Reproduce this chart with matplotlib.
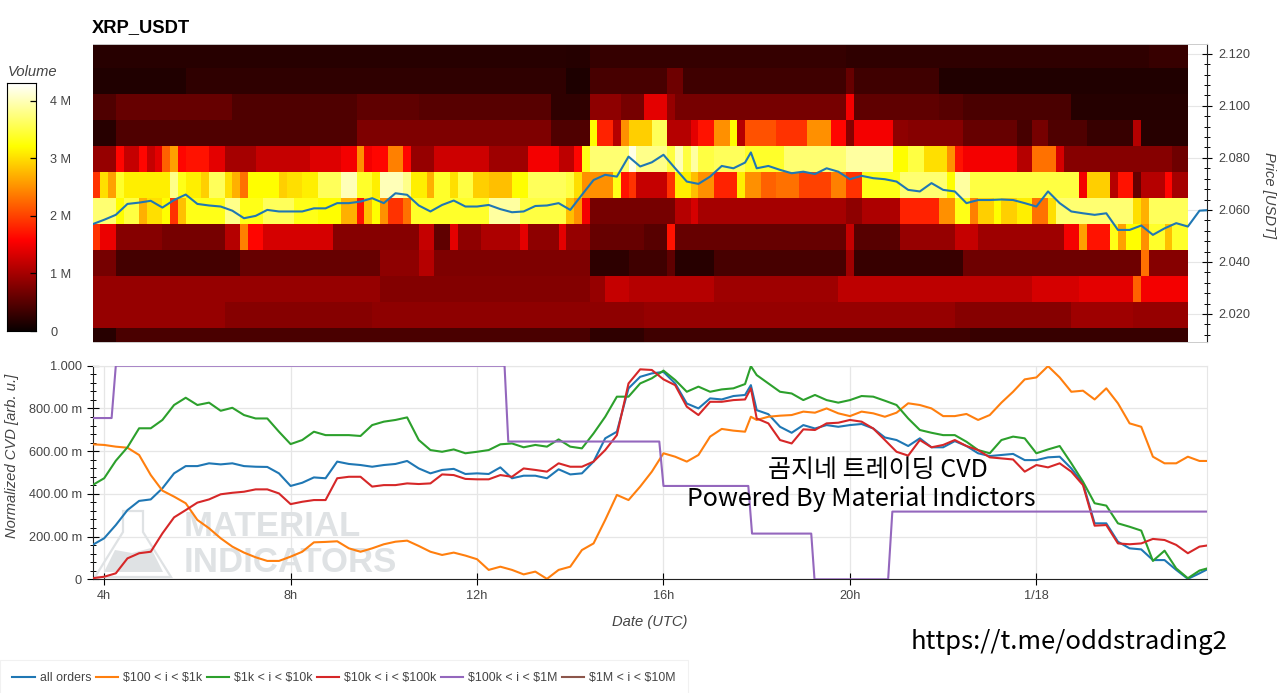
import numpy as np
import matplotlib
matplotlib.use('Agg')
import matplotlib.pyplot as plt
from matplotlib.patches import Polygon
from matplotlib.ticker import MultipleLocator

plt.rcParams['font.family'] = ['Liberation Sans', 'Noto Sans CJK KR', 'DejaVu Sans']

# heatmap, rows top to bottom, volume in M, run lengths over 141 ten minute columns
h_vals = [
    [.2, .18, .28, .25, .3],
    [.15, .25, .12, .4, .65, .35, .6, .35, .15],
    [.45, .6, .45, .55, .5, .25, .85, .7, 1.4, .9, .7, 1.5, .55, .5, .42, .18],
    [.2, .45, .45, .75, .45, 3.2, 1.8, 1.1, 2.5, 2.9, 2.9, 3.6, 1.1, 1.4, 1.7, 2.5, 3.2, 1.1, 2.1, 1.9, 2.5, 1.6, .8, 1.5, .85, .8, .6, .4, .7, .45, .3, 1.1, .2],
    [.9, 1.6, 1.2, 1.6, 1.2, 1.4, 2.2, 2.6, 1.6, 1.7, 1.4, 1.0, 1.2, 1.35, 1.5, 2.5, 1.5, 1.6, 2.4, 1.6, .9, 1.25, .95, 1.5, 1.15, 1.6, 3.3, 3.7, 4.2, 3.8, 3.5, 4.0, 3.5, 3.9, 3.5, 3.6, 3.4, 3.7, 3.9, 3.2, 3.5, 3.0, 2.5, 1.7, 1.5, 1.1, 2.3, 1.3, .8, .65],
    [1.9, 3.0, 2.6, 3.4, 3.1, 3.8, 3.3, 3.1, 2.9, 3.6, 3.0, 2.7, 2.3, 3.2, 2.9, 3.0, 3.1, 3.6, 4.0, 3.4, 3.1, 4.0, 3.8, 3.1, 2.7, 3.4, 3.0, 3.5, 2.9, 2.8, 3.2, 3.6, 3.5, 3.0, 2.5, 2.5, 3.3, 1.7, 1.9, 1.2, 1.9, 3.1, 2.8, 2.5, 1.8, 3.1, 2.5, 2.2, 2.3, 2.0, 2.4, 1.9, 3.3, 3.7, 3.2, 3.9, 3.5, 1.5, 2.9, 1.1, 1.7, .6, 1.1, 1.6, 1.0],
    [3.7, 3.2, 3.5, 2.7, 3.0, 3.2, 1.9, 2.8, 3.3, 3.8, 3.3, 3.6, 3.3, 3.2, 2.7, 1.7, 2.8, 3.2, 2.5, 1.9, 2.3, 3.4, 3.9, 3.5, 2.8, 2.5, 1.5, .7, 1.1, 1.3, 1.0, .85, 1.05, 1.8, 2.5, 3.3, 2.4, 2.9, 3.2, 2.9, 3.1, 2.3, 3.0, 3.7, 3.0, 2.7, 3.6],
    [1.9, 1.45, .8, .7, 1.1, 2.4, 1.6, 1.3, .8, 1.2, .55, 1.4, .85, 1.05, 1.4, .85, 1.4, .9, .6, .5, 1.7, .6, 1.2, .5, .9, 1.2, .95, 1.5, 2.6, 1.7, 3.3, 2.6, 3.2, 2.5, 3.4, 2.8, 3.4],
    [.7, .38, .6, .85, 1.1, .75, .22, .35, .55, .2, .4, .95, .3, .65, 2.3, .8],
    [.9, .78, .9, 1.2, 1.1, .95, 1.15, 1.3, 1.4, 2.2, 1.5],
    [.9, .8, .85, .9, .8, .95, .9],
    [.2, .42, .25, .35, .3],
]
h_runs = [
    [61, 3, 33, 39, 5],
    [12, 49, 3, 10, 2, 21, 1, 11, 32],
    [3, 15, 16, 8, 17, 5, 4, 3, 3, 1, 22, 1, 11, 3, 14, 15],
    [3, 15, 16, 25, 5, 1, 2, 1, 1, 1, 2, 2, 3, 1, 2, 2, 1, 1, 4, 4, 3, 2, 1, 5, 2, 7, 7, 2, 2, 5, 6, 1, 6],
    [3, 1, 2, 1, 1, 1, 1, 1, 1, 3, 2, 4, 7, 4, 2, 1, 1, 2, 2, 1, 3, 7, 5, 4, 2, 1, 1, 5, 1, 4, 1, 1, 1, 1, 2, 4, 5, 8, 6, 2, 2, 3, 1, 1, 7, 2, 3, 1, 14, 2],
    [1, 1, 1, 1, 6, 1, 1, 2, 1, 2, 1, 1, 1, 4, 1, 2, 2, 3, 2, 2, 1, 3, 1, 2, 1, 2, 1, 2, 2, 3, 2, 5, 1, 1, 1, 3, 1, 1, 1, 4, 1, 2, 1, 2, 3, 1, 2, 2, 3, 4, 2, 2, 5, 6, 1, 2, 14, 1, 3, 1, 2, 1, 3, 1, 2],
    [3, 1, 2, 1, 2, 1, 1, 1, 5, 2, 3, 4, 3, 3, 2, 1, 1, 1, 1, 2, 1, 10, 4, 6, 1, 1, 1, 11, 2, 1, 19, 2, 5, 5, 2, 2, 1, 2, 1, 2, 2, 2, 1, 10, 1, 1, 5],
    [1, 2, 6, 8, 2, 1, 2, 9, 11, 2, 2, 1, 3, 5, 1, 4, 1, 3, 7, 3, 1, 22, 1, 6, 7, 3, 11, 2, 1, 3, 1, 1, 2, 1, 2, 1, 2],
    [3, 16, 18, 5, 2, 20, 5, 5, 1, 5, 17, 1, 14, 23, 1, 5],
    [37, 27, 2, 3, 11, 16, 25, 6, 7, 1, 6],
    [17, 19, 35, 40, 15, 8, 7],
    [3, 61, 7, 42, 28],
]

# sample times, quarter hours plus one extra at the 18h spike
hours = np.insert(np.arange(3.75, 27.76, 0.25), 57, 17.875)

price = [
    2.0545, 2.0562, 2.0581, 2.0623, 2.0628, 2.0635, 2.0609, 2.0638, 2.0659, 2.0623, 2.0617, 2.0613, 2.0597, 2.0568, 2.0577, 2.0600,
    2.0594, 2.0594, 2.0594, 2.0606, 2.0606, 2.0626, 2.0626, 2.0632, 2.0645, 2.0626, 2.0664, 2.0658, 2.0617, 2.0594, 2.0619, 2.0636,
    2.0613, 2.0613, 2.0619, 2.0603, 2.0591, 2.0594, 2.0615, 2.0617, 2.0626, 2.0600, 2.0658, 2.0715, 2.0735, 2.0728, 2.0805, 2.0767,
    2.0783, 2.0812, 2.0760, 2.0709, 2.0700, 2.0728, 2.0769, 2.0760, 2.0782, 2.0821, 2.0760, 2.0769, 2.0754, 2.0741, 2.0747, 2.0738,
    2.0760, 2.0747, 2.0718, 2.0731, 2.0722, 2.0718, 2.0709, 2.0677, 2.0671, 2.0703, 2.0677, 2.0671, 2.0626, 2.0638, 2.0638, 2.0640,
    2.0638, 2.0626, 2.0613, 2.0671, 2.0626, 2.0594, 2.0587, 2.0581, 2.0587, 2.0523, 2.0523, 2.0540, 2.0504, 2.0529, 2.0549, 2.0536,
    2.0597, 2.0600,
]

# normalized CVD in milli units
all_orders = [
    161, 192, 254, 324, 367, 374, 426, 496, 530, 530, 543, 538, 543, 530, 527, 526, 496, 437, 452, 477, 473, 551, 540, 535,
    527, 535, 540, 554, 519, 496, 512, 517, 493, 496, 493, 524, 473, 485, 485, 473, 515, 491, 496, 551, 660, 691, 894, 948,
    964, 971, 917, 823, 800, 847, 842, 858, 863, 909, 792, 773, 714, 686, 722, 706, 722, 714, 722, 727, 706, 664, 652, 624, 660,
    618, 618, 647, 624, 590, 577, 582, 587, 558, 558, 571, 574, 519, 449, 262, 262, 176, 145, 140, 90, 90, 44, 2, 28, 56,
]
usd_100_1k = [
    632, 629, 621, 616, 582, 488, 415, 387, 356, 278, 239, 192, 153, 125, 103, 86, 86, 106, 129, 173, 175, 178, 145, 129,
    145, 164, 176, 181, 156, 129, 114, 125, 111, 94, 44, 59, 44, 23, 36, 2, 44, 59, 137, 168, 278, 395, 371, 434,
    504, 590, 574, 551, 582, 668, 704, 696, 691, 761, 746, 761, 766, 769, 785, 780, 800, 777, 764, 785, 777, 761, 780, 824, 816,
    800, 764, 764, 774, 746, 769, 827, 878, 936, 945, 998, 945, 878, 883, 842, 894, 824, 730, 714, 574, 543, 543, 574, 554, 554,
]
usd_1k_10k = [
    441, 473, 555, 618, 707, 707, 746, 816, 850, 816, 827, 789, 803, 769, 753, 753, 691, 633, 652, 691, 675, 675, 675, 671,
    722, 738, 746, 758, 652, 605, 597, 608, 590, 597, 605, 632, 636, 618, 629, 621, 655, 621, 613, 683, 761, 855, 855, 917,
    941, 977, 933, 878, 902, 878, 889, 894, 914, 998, 956, 917, 878, 870, 839, 863, 839, 827, 839, 858, 855, 836, 816, 753, 699,
    686, 675, 675, 644, 605, 590, 652, 668, 660, 590, 608, 624, 543, 457, 356, 345, 262, 246, 228, 86, 134, 51, 5, 41, 56,
]
usd_10k_100k = [
    5, 12, 28, 98, 122, 129, 215, 290, 324, 359, 374, 398, 405, 410, 421, 421, 402, 352, 363, 371, 371, 473, 480, 480,
    434, 441, 441, 449, 446, 449, 491, 488, 470, 468, 468, 488, 480, 519, 512, 504, 543, 527, 527, 551, 605, 675, 917, 983,
    980, 936, 909, 808, 769, 831, 831, 839, 842, 894, 753, 730, 652, 636, 702, 699, 730, 733, 746, 738, 706, 652, 597, 579, 652,
    618, 629, 652, 624, 605, 571, 566, 561, 504, 535, 524, 543, 504, 441, 251, 254, 168, 164, 168, 189, 184, 161, 122, 153, 161,
]
# the $100k bucket only moves in steps
step_hours = [3.75, 4.16, 4.25, 12.59, 12.67, 15.91, 16.0, 17.82, 17.9, 19.17, 19.24, 20.82, 20.91, 27.65]
usd_100k_1m = [755, 755, 1000, 1000, 645, 645, 437, 437, 214, 214, 0, 0, 317, 317]

series = [
    ('all orders', all_orders, '#1f77b4'),
    (r'\$100 < i < \$1k', usd_100_1k, '#ff7f0e'),
    (r'\$1k < i < \$10k', usd_1k_10k, '#2ca02c'),
    (r'\$10k < i < \$100k', usd_10k_100k, '#d62728'),
]

volume_ticks = [0, 1, 2, 3, 4]
volume_labels = ['0', '1 M', '2 M', '3 M', '4 M']
cvd_ticks = [0, 200, 400, 600, 800, 1000]
cvd_labels = ['0', '200.00 m', '400.00 m', '600.00 m', '800.00 m', '1.000']
date_ticks = [4, 8, 12, 16, 20, 24]
date_labels = ['4h', '8h', '12h', '16h', '20h', '1/18']

W, H = 1280, 693
GRAY = '#444444'
GRID = '#e6e6e6'


def box(x0, y0, x1, y1):
    # pixel box, y from the top, to figure fractions
    return [x0 / W, 1 - y1 / H, (x1 - x0) / W, (y1 - y0) / H]


fig = plt.figure(figsize=(12.8, 6.93), dpi=100)

# top panel
ax1 = fig.add_axes(box(92.5, 44, 1206.5, 342))
matrix = np.vstack([np.repeat(v, r) for v, r in zip(h_vals, h_runs)])[::-1]
col_edges = 3.75 + np.arange(matrix.shape[1] + 1) / 6
row_edges = 2.0046 + np.arange(matrix.shape[0] + 1) * 0.01
ax1.pcolormesh(col_edges, row_edges, matrix, cmap='hot', vmin=0, vmax=4.31, zorder=2)
ax1.plot(hours, price, color='#1f77b4', lw=1.5, zorder=3, clip_on=True)
ax1.set_xlim(3.75, 27.65)
ax1.set_ylim(2.0092, 2.1238)
ax1.yaxis.tick_right()
ax1.yaxis.set_major_locator(MultipleLocator(0.02))
ax1.yaxis.set_minor_locator(MultipleLocator(0.004))
ax1.yaxis.set_major_formatter(lambda v, pos: f'{v:.3f}')
ax1.tick_params(axis='y', which='major', direction='inout', length=7, width=0.8, labelsize=9.2, labelcolor=GRAY, pad=5)
ax1.tick_params(axis='y', which='minor', direction='inout', length=4, width=0.7)
ax1.tick_params(axis='x', bottom=False, labelbottom=False)
ax1.grid(axis='y', color=GRID, lw=0.8, zorder=0)
ax1.set_axisbelow(True)
for s in ['left', 'top', 'bottom']:
    ax1.spines[s].set_color('#cccccc')
    ax1.spines[s].set_linewidth(0.7)
ax1.spines['left'].set_visible(False)
ax1.spines['right'].set_color('#222222')
ax1.spines['right'].set_linewidth(0.8)
fig.text(92 / W, 1 - 28 / H, 'XRP_USDT', fontsize=13.2, fontweight='bold', va='center', ha='left')
fig.text(1269 / W, 1 - 195 / H, 'Price [USDT]', fontsize=10.6, style='italic', color=GRAY,
         rotation=270, va='center', ha='center')

# colour bar
cax = fig.add_axes(box(6.7, 83, 35.7, 331))
cax.imshow(np.linspace(0, 4.31, 256)[:, None], origin='lower', aspect='auto', cmap='hot',
           vmin=0, vmax=4.31, extent=[0, 1, 0, 4.31])
cax.set_xticks([])
cax.yaxis.tick_right()
cax.set_yticks(volume_ticks)
cax.set_yticklabels(volume_labels)
cax.tick_params(axis='y', direction='in', length=4, width=0.9, labelsize=9.2, labelcolor=GRAY, pad=10.5)
for s in cax.spines.values():
    s.set_linewidth(0.8)
fig.text(8 / W, 1 - 72 / H, 'Volume', fontsize=10.6, style='italic', color=GRAY, va='center', ha='left')

# bottom panel
ax2 = fig.add_axes(box(92.5, 365.7, 1206.5, 579.3))

# watermark
wm = '#dfe2e4'
flask = [(123, 511), (143, 511), (143, 532), (171, 577), (95, 577), (123, 532)]
liquid = [(115, 550), (132, 553), (151, 548), (163, 572), (104, 572)]
to_ax = lambda pts: [(x / W, 1 - y / H) for x, y in pts]
ax2.add_patch(Polygon(to_ax(flask), closed=True, fill=False, ec=wm, lw=1.6, transform=fig.transFigure, zorder=1))
ax2.add_patch(Polygon(to_ax(liquid), closed=True, fc=wm, ec='none', transform=fig.transFigure, zorder=1))
fig_txt = dict(fontsize=25, fontweight='bold', color=wm, family=['Liberation Sans Narrow', 'Liberation Sans'],
               transform=fig.transFigure, zorder=1, va='center', ha='left')
ax2.text(184 / W, 1 - 527 / H, 'MATERIAL', **fig_txt)
ax2.text(184 / W, 1 - 562 / H, 'INDICATORS', **fig_txt)

for label, values, color in series:
    ax2.plot(hours, values, color=color, lw=1.5, label=label, zorder=3)
ax2.plot(step_hours, usd_100k_1m, color='#9467bd', lw=1.5, label=r'\$100k < i < \$1M', zorder=3)
ax2.plot([], [], color='#8c564b', lw=1.5, label=r'\$1M < i < \$10M')

ax2.set_xlim(3.75, 27.65)
ax2.set_ylim(0, 1000)
ax2.set_xticks(date_ticks)
ax2.set_xticklabels(date_labels)
ax2.set_yticks(cvd_ticks)
ax2.set_yticklabels(cvd_labels)
ax2.yaxis.set_minor_locator(MultipleLocator(40))
ax2.tick_params(axis='both', which='major', direction='inout', length=9, width=0.8, labelsize=9.2, labelcolor=GRAY, pad=3)
ax2.tick_params(axis='y', which='minor', direction='inout', length=5, width=0.7)
ax2.grid(True, color=GRID, lw=0.9, zorder=0)
ax2.set_axisbelow(True)
ax2.spines['top'].set_color(GRID)
ax2.spines['right'].set_color(GRID)
ax2.spines['left'].set_color('#222222')
ax2.spines['bottom'].set_color('#222222')
fig.text(650 / W, 1 - 622 / H, 'Date (UTC)', fontsize=10.6, style='italic', color=GRAY, va='center', ha='center')
fig.text(12 / W, 1 - 456 / H, 'Normalized CVD [arb. u.]', fontsize=10.6, style='italic', color=GRAY,
         rotation=90, va='center', ha='center')

# legend strip
leg = fig.legend(loc='center left', bbox_to_anchor=(0, 1 - 678 / H), ncol=6, fontsize=8.9, frameon=True,
                 fancybox=False, edgecolor='#eeeeee', labelcolor=GRAY, handlelength=1.8, handletextpad=0.42,
                 columnspacing=0.35, borderaxespad=0, borderpad=1.0)
leg.get_frame().set_linewidth(0.8)

# pasted captions
cap = ['Noto Sans CJK KR', 'Liberation Sans']
fig.text(878 / W, 1 - 470 / H, '곰지네 트레이딩 CVD', fontsize=18, family=cap, color='black', va='center', ha='center')
fig.text(861 / W, 1 - 499 / H, 'Powered By Material Indictors', fontsize=18, family=cap, color='black', va='center', ha='center')
fig.text(1069 / W, 1 - 642 / H, 'https://t.me/oddstrading2', fontsize=18.5, family=cap, color='black', va='center', ha='center')

fig.savefig('out.png', dpi=100)
